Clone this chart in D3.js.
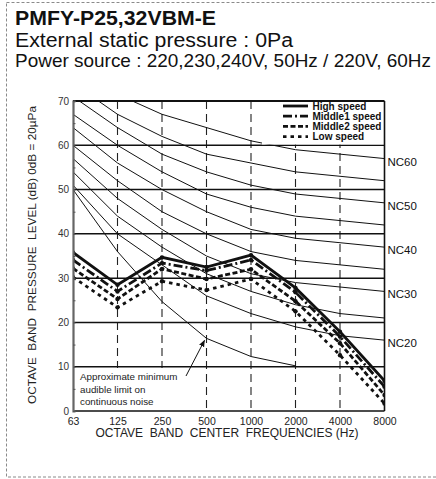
<!DOCTYPE html>
<html>
<head>
<meta charset="utf-8">
<script src="https://cdn.jsdelivr.net/npm/d3@7"></script>
<style>
  body { margin: 0; background: #fff; }
  svg { font-family: 'Liberation Sans', Arial, sans-serif; }
</style>
</head>
<body>
<div id="chart-area"></div>
<script>
var freqs = ['63', '125', '250', '500', '1000', '2000', '4000', '8000']
var yTicks = [0, 10, 20, 30, 40, 50, 60, 70]

// measured levels, dB
var highSpeed = [35.8, 28.5, 34.7, 32.5, 35.2, 27.8, 17.9, 6.8]
var middle1Speed = [34.1, 27.0, 33.4, 31.7, 34.1, 26.8, 16.8, 5.5]
var middle2Speed = [32.2, 25.3, 32.1, 29.8, 32.0, 24.8, 15.3, 3.6]
var lowSpeed = [30.2, 23.4, 29.3, 27.3, 29.8, 22.5, 12.6, 1.7]

// NC reference curves
var ncNames = ['NC20', 'NC25', 'NC30', 'NC35', 'NC40', 'NC45', 'NC50', 'NC55', 'NC60']
var nc20 = [51, 40, 33, 26, 22, 19, 17, 16]
var nc25 = [54, 44, 37, 31, 27, 24, 22, 21]
var nc30 = [57, 48, 41, 35, 31, 29, 28, 27]
var nc35 = [60, 52, 45, 40, 36, 34, 33, 32]
var nc40 = [64, 56, 50, 45, 41, 39, 38, 37]
var nc45 = [67, 60, 54, 49, 46, 44, 43, 42]
var nc50 = [71, 64, 58, 54, 51, 49, 48, 47]
var nc55 = [74, 67, 62, 58, 56, 54, 53, 52]
var nc60 = [77, 71.5, 67, 64, 61, 59, 58, 57]
var audibleLimit = [50, 36, 24.7, 16.4, 12.3, 10.2]

var ncCurves = [nc20, nc25, nc30, nc35, nc40, nc45, nc50, nc55, nc60]
var ncLabeled = ['NC20', 'NC30', 'NC40', 'NC50', 'NC60']

var series = [
  { name: 'High speed', values: highSpeed, dash: null },
  { name: 'Middle1 speed', values: middle1Speed, dash: '9,3,2,3' },
  { name: 'Middle2 speed', values: middle2Speed, dash: '5,2.5' },
  { name: 'Low speed', values: lowSpeed, dash: '3.5,4' }
]

var W = 436, H = 479
var plot = { left: 73, right: 384.5, top: 101, bottom: 411 }

var svg = d3.select('#chart-area').append('svg')
    .attr('width', W)
    .attr('height', H)

// dashed frame round the figure
svg.append('rect')
    .attr('x', 6.5).attr('y', 2.5)
    .attr('width', 445).attr('height', 474.5)
    .attr('fill', 'none')
    .attr('stroke', '#8a8a8a')
    .attr('stroke-width', 1)
    .attr('stroke-dasharray', '3,2')

var heading = [
  { text: 'PMFY-P25,32VBM-E', y: 25, size: 20, bold: true, len: 201 },
  { text: 'External static pressure : 0Pa', y: 46.7, size: 20, bold: false, len: 278 },
  { text: 'Power source : 220,230,240V, 50Hz / 220V, 60Hz', y: 66.7, size: 19, bold: false, len: 416 }
]
svg.selectAll('.heading').data(heading).enter()
  .append('text')
    .attr('class', 'heading')
    .attr('x', 15)
    .attr('y', d => d.y)
    .attr('font-size', d => d.size + 'px')
    .attr('font-weight', d => d.bold ? 'bold' : 'normal')
    .attr('textLength', d => d.len)
    .attr('lengthAdjust', 'spacingAndGlyphs')
    .attr('fill', '#111')
    .text(d => d.text)

var x = d3.scalePoint().domain(freqs).range([plot.left, plot.right])
var y = d3.scaleLinear().domain([0, 70]).range([plot.bottom, plot.top])

svg.append('clipPath').attr('id', 'plot-clip')
  .append('rect')
    .attr('x', plot.left).attr('y', plot.top)
    .attr('width', plot.right - plot.left)
    .attr('height', plot.bottom - plot.top)

var g = svg.append('g')

// vertical dashed grid at inner frequencies
g.selectAll('.vgrid').data(freqs.slice(1, -1)).enter()
  .append('line')
    .attr('class', 'vgrid')
    .attr('x1', d => x(d)).attr('x2', d => x(d))
    .attr('y1', plot.top).attr('y2', plot.bottom)
    .attr('stroke', '#222')
    .attr('stroke-width', 1.1)
    .attr('stroke-dasharray', '8,5')

// horizontal grid
g.selectAll('.hgrid').data(yTicks.slice(1, -1)).enter()
  .append('line')
    .attr('class', 'hgrid')
    .attr('x1', plot.left).attr('x2', plot.right)
    .attr('y1', d => y(d)).attr('y2', d => y(d))
    .attr('stroke', '#111')
    .attr('stroke-width', 1.5)

var line = d3.line()
    .x((d, i) => x(freqs[i]))
    .y(d => y(d))

var curves = g.append('g').attr('clip-path', 'url(#plot-clip)')

curves.selectAll('.nc').data(ncCurves).enter()
  .append('path')
    .attr('class', 'nc')
    .attr('d', d => line(d))
    .attr('fill', 'none')
    .attr('stroke', '#111')
    .attr('stroke-width', 1)

curves.append('path')
    .attr('d', line(audibleLimit))
    .attr('fill', 'none')
    .attr('stroke', '#111')
    .attr('stroke-width', 1)

// note box for the audible limit
var note = svg.append('g')
note.append('rect')
    .attr('x', 76).attr('y', 368)
    .attr('width', 106).attr('height', 41)
    .attr('fill', '#fff')

var noteLines = ['Approximate minimum', 'audible limit on', 'continuous noise']
note.selectAll('text').data(noteLines).enter()
  .append('text')
    .attr('x', 80)
    .attr('y', (d, i) => 380 + i * 12.5)
    .attr('font-size', '9.8px')
    .attr('fill', '#222')
    .text(d => d)

svg.append('defs').append('marker')
    .attr('id', 'arrow')
    .attr('viewBox', '0 0 10 10')
    .attr('refX', 9).attr('refY', 5)
    .attr('markerWidth', 7).attr('markerHeight', 7)
    .attr('orient', 'auto')
  .append('path')
    .attr('d', 'M0,1 L10,5 L0,9 Z')
    .attr('fill', '#111')

svg.append('line')
    .attr('x1', 186).attr('y1', 376)
    .attr('x2', x('500') - 2).attr('y2', y(audibleLimit[3]) + 2)
    .attr('stroke', '#111')
    .attr('stroke-width', 1)
    .attr('marker-end', 'url(#arrow)')

// speed series
var sg = g.append('g').attr('clip-path', 'url(#plot-clip)')
series.forEach(s => {
  sg.append('path')
      .attr('d', line(s.values))
      .attr('fill', 'none')
      .attr('stroke', '#111')
      .attr('stroke-width', 2.8)
      .attr('stroke-dasharray', s.dash)
  sg.selectAll(null).data(s.values).enter()
    .append('circle')
      .attr('cx', (d, i) => x(freqs[i]))
      .attr('cy', d => y(d))
      .attr('r', 2.2)
      .attr('fill', '#111')
})

// legend
var legend = svg.append('g')
legend.append('rect')
    .attr('x', 262).attr('y', plot.top)
    .attr('width', plot.right - 262).attr('height', y(60) - plot.top - 0.8)
    .attr('fill', '#fff')

series.forEach((s, i) => {
  var ly = 106 + i * 10.2
  legend.append('line')
      .attr('x1', 283).attr('x2', 308)
      .attr('y1', ly).attr('y2', ly)
      .attr('stroke', '#111')
      .attr('stroke-width', 2.8)
      .attr('stroke-dasharray', s.dash)
  legend.append('text')
      .attr('x', 312.5).attr('y', ly + 3.6)
      .attr('font-size', '10px')
      .attr('font-weight', 'bold')
      .attr('fill', '#111')
      .text(s.name)
})

// frame
svg.append('line')
    .attr('x1', plot.left).attr('x2', plot.right)
    .attr('y1', plot.top).attr('y2', plot.top)
    .attr('stroke', '#111').attr('stroke-width', 2)
svg.append('line')
    .attr('x1', plot.right).attr('x2', plot.right)
    .attr('y1', plot.top).attr('y2', plot.bottom)
    .attr('stroke', '#111').attr('stroke-width', 1.6)
svg.append('line')
    .attr('x1', plot.left).attr('x2', plot.right)
    .attr('y1', plot.bottom).attr('y2', plot.bottom)
    .attr('stroke', '#111').attr('stroke-width', 1.6)

// y axis
var yAxisCall = d3.axisRight(y).tickValues(d3.range(0, 71, 5)).tickSize(2.5).tickFormat('')
var yAxisGroup = svg.append('g')
    .attr('transform', `translate(${plot.left}, 0)`)
    .call(yAxisCall)
yAxisGroup.select('.domain').attr('stroke', '#666').attr('stroke-width', 2.2)
yAxisGroup.selectAll('.tick line').attr('stroke', '#555')

svg.selectAll('.ylab').data(yTicks).enter()
  .append('text')
    .attr('class', 'ylab')
    .attr('x', 69)
    .attr('y', d => y(d) + 3.5)
    .attr('text-anchor', 'end')
    .attr('font-size', '10px')
    .attr('fill', '#333')
    .text(d => d)

// x axis labels
var xAxisCall = d3.axisBottom(x).tickSize(0).tickPadding(7)
var xAxisGroup = svg.append('g')
    .attr('transform', `translate(0, ${plot.bottom})`)
    .call(xAxisCall)
xAxisGroup.select('.domain').remove()
xAxisGroup.selectAll('text')
    .attr('font-size', '10.5px')
    .attr('font-family', 'Liberation Sans, Arial, sans-serif')
    .attr('fill', '#222')

// NC labels
ncLabeled.forEach(name => {
  var vals = ncCurves[ncNames.indexOf(name)]
  svg.append('text')
      .attr('x', plot.right + 3)
      .attr('y', y(vals[vals.length - 1]) + 7)
      .attr('font-size', '11.5px')
      .attr('fill', '#111')
      .text(name)
})

// axis titles
svg.append('text')
    .attr('x', 227)
    .attr('y', 437)
    .attr('text-anchor', 'middle')
    .attr('font-size', '12px')
    .attr('fill', '#222')
    .style('white-space', 'pre')
    .text('OCTAVE  BAND  CENTER  FREQUENCIES (Hz)')

svg.append('text')
    .attr('transform', 'translate(36, 255) rotate(-90)')
    .attr('text-anchor', 'middle')
    .attr('font-size', '11.8px')
    .attr('fill', '#222')
    .style('white-space', 'pre')
    .text('OCTAVE  BAND  PRESSURE  LEVEL (dB) 0dB = 20µPa')
</script>
</body>
</html>
